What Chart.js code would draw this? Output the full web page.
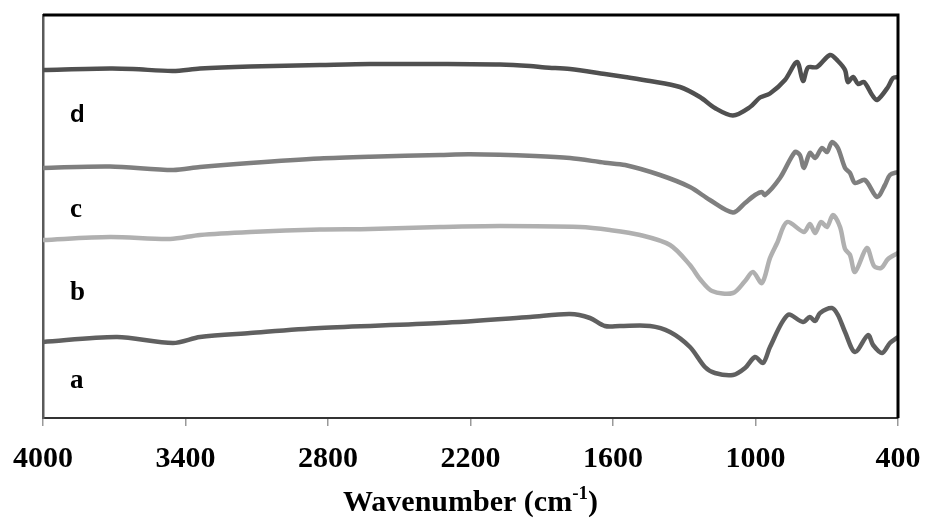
<!DOCTYPE html>
<html>
<head>
<meta charset="utf-8">
<script src="https://cdn.jsdelivr.net/npm/chart.js@4/dist/chart.umd.min.js"></script>
<style>
  body { margin: 0; background: #fff; }
  canvas { display: block; }
</style>
</head>
<body>
<canvas id="ftirChart" width="927" height="520"></canvas>
<script>
// x: wavenumber (cm-1), y: transmittance in arbitrary (offset) units
const xTicks = [4000, 3400, 2800, 2200, 1600, 1000, 400];
const seriesNames = ["a", "b", "c", "d"];
const seriesColors = ["#606060", "#b0b0b0", "#7f7f7f", "#505050"];

const waveD = [4000, 3718, 3621, 3453, 3339, 3128, 2834, 2623, 2328, 2076, 1949, 1886, 1781, 1634, 1549, 1444, 1318, 1234, 1171, 1095, 1023, 981, 939, 876, 825, 800, 779, 741, 686, 653, 623, 611, 589, 568, 543, 509, 488, 442, 421, 400];
const valD  = [348, 349.5, 349, 347, 349.5, 351.5, 353, 354, 354, 353.5, 352, 350.5, 349, 344, 341, 337, 331, 321, 310, 302.5, 311, 320.5, 324.5, 338, 356, 337, 350.5, 351, 363, 357, 348, 336, 341, 334, 336, 323, 318, 331, 340, 341];

const waveC = [4000, 3718, 3453, 3339, 3128, 2834, 2623, 2328, 2202, 1928, 1781, 1634, 1549, 1402, 1276, 1192, 1095, 1044, 1002, 973, 960, 897, 834, 813, 796, 771, 749, 720, 699, 678, 653, 623, 602, 581, 539, 488, 455, 434, 400];
const valC  = [250, 251.5, 248, 251, 255, 259.5, 261.3, 263, 263.7, 262, 260, 255.3, 253, 243, 231, 218, 205.5, 215, 223, 226, 223, 240, 266, 263, 250, 265, 260, 270, 266, 276, 270, 250, 245, 235, 238, 221, 233, 243, 246];

const waveB = [4000, 3718, 3465, 3339, 3128, 2834, 2623, 2328, 2076, 1739, 1613, 1486, 1360, 1276, 1234, 1183, 1095, 1044, 1011, 973, 939, 909, 867, 796, 771, 749, 724, 699, 674, 644, 623, 602, 581, 531, 501, 471, 442, 400];
const valB  = [178, 181, 179, 183, 186, 188.5, 189, 191, 192, 191, 188, 183, 173, 153, 139, 127, 125, 137, 146, 135, 160, 175, 196, 186, 194, 185, 196, 191, 203, 191, 169, 163, 146, 170, 152, 150, 159, 165];

const waveA = [4000, 3688, 3453, 3339, 3128, 2834, 2328, 1949, 1781, 1697, 1634, 1571, 1444, 1360, 1276, 1213, 1171, 1095, 1044, 1002, 968, 939, 864, 800, 771, 749, 728, 678, 653, 623, 581, 526, 505, 467, 434, 400];
const valA  = [76, 81, 75, 81, 85, 90, 95, 101, 104, 100, 92, 92, 92, 86, 71, 51, 45, 43, 50, 61, 55, 71, 103, 96, 101, 97, 105, 110, 103, 86, 66, 83, 73, 65, 75, 81];

const labelYs = [388, 300, 217, 122]; // baselines of the a/b/c/d tags

function toPoints(w, v) {
  return w.map((x, i) => ({ x: x, y: v[i] }));
}

const allWaves = [waveA, waveB, waveC, waveD];
const allVals = [valA, valB, valC, valD];

// draws the black frame, series tags and the axis title with a superscript
const decorPlugin = {
  id: "decor",
  afterDraw(chart) {
    const ctx = chart.ctx;
    const area = chart.chartArea;
    ctx.save();
    ctx.strokeStyle = "#000";
    ctx.lineWidth = 3;
    ctx.beginPath();
    ctx.moveTo(area.left, area.top);
    ctx.lineTo(area.right, area.top);
    ctx.lineTo(area.right, area.bottom);
    ctx.stroke();

    ctx.fillStyle = "#000";
    ctx.textBaseline = "alphabetic";
    ctx.textAlign = "left";
    seriesNames.forEach((name, i) => {
      ctx.font = name === "d" ? "bold 24px Arial, 'Liberation Sans', sans-serif"
                              : "bold 27px 'Liberation Serif', 'Times New Roman', serif";
      ctx.fillText(name, 70, labelYs[i]);
    });

    // axis title: Wavenumber (cm-1)
    const main = "Wavenumber (cm";
    const sup = "-1";
    const close = ")";
    const bigFont = "bold 30px 'Liberation Serif', 'Times New Roman', serif";
    const smallFont = "bold 19px 'Liberation Serif', 'Times New Roman', serif";
    ctx.font = bigFont;
    const w1 = ctx.measureText(main).width;
    const w3 = ctx.measureText(close).width;
    ctx.font = smallFont;
    const w2 = ctx.measureText(sup).width;
    const total = w1 + w2 + w3;
    const cx = (area.left + area.right) / 2;
    let x = cx - total / 2;
    const base = 511;
    ctx.font = bigFont;
    ctx.fillText(main, x, base);
    x += w1;
    ctx.font = smallFont;
    ctx.fillText(sup, x, base - 12);
    x += w2;
    ctx.font = bigFont;
    ctx.fillText(close, x, base);
    ctx.restore();
  }
};

new Chart(document.getElementById("ftirChart"), {
  type: "line",
  data: {
    datasets: seriesNames.map((name, i) => ({
      label: name,
      data: toPoints(allWaves[i], allVals[i]),
      borderColor: seriesColors[i],
      borderWidth: 4.5,
      pointRadius: 0,
      tension: 0.3,
      fill: false
    }))
  },
  options: {
    responsive: false,
    devicePixelRatio: 1,
    animation: false,
    layout: { padding: { left: 43, right: 29, top: 15, bottom: 0 } },
    plugins: {
      legend: { display: false },
      tooltip: { enabled: false }
    },
    scales: {
      x: {
        type: "linear",
        reverse: true,
        min: 400,
        max: 4000,
        afterBuildTicks: (scale) => { scale.ticks = xTicks.map(v => ({ value: v })); },
        afterFit: (scale) => {
          scale.height = 102;
          scale.paddingLeft = 0;
          scale.paddingRight = 0;
        },
        border: { display: true, color: "#333", width: 2 },
        grid: { display: true, drawOnChartArea: false, drawTicks: true, tickLength: 8, color: "#999", lineWidth: 1.5 },
        ticks: {
          color: "#000",
          padding: 15,
          maxRotation: 0,
          callback: (v) => String(v),
          font: { family: "'Liberation Serif', 'Times New Roman', serif", size: 30, weight: "bold" }
        }
      },
      y: {
        min: 0,
        max: 403,
        afterFit: (scale) => { scale.width = 0; },
        border: { display: true, color: "#5a5a5a", width: 2.5 },
        grid: { display: false },
        ticks: { display: false }
      }
    }
  },
  plugins: [decorPlugin]
});
</script>
</body>
</html>
